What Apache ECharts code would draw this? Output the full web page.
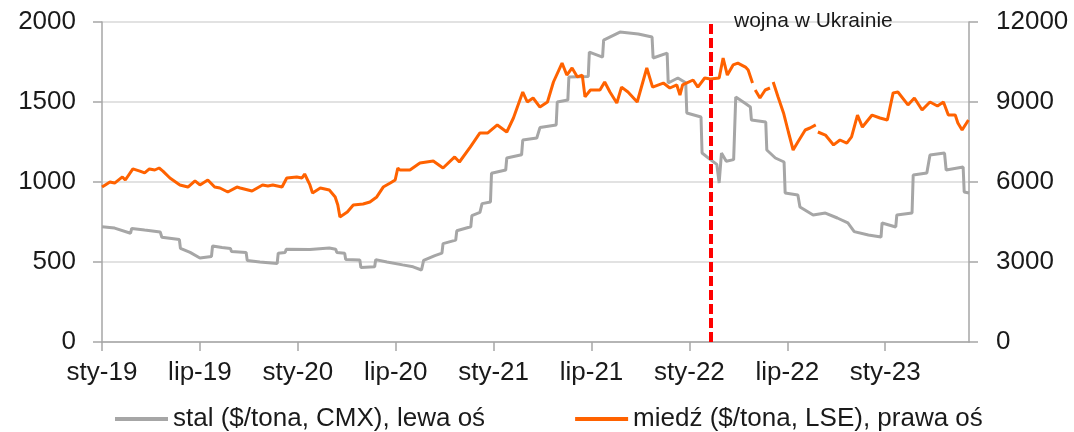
<!DOCTYPE html>
<html>
<head>
<meta charset="utf-8">
<script src="https://cdn.jsdelivr.net/npm/echarts@6/dist/echarts.min.js"></script>
<style>
  html, body { margin: 0; padding: 0; background: #fff; }
  #chart { width: 1074px; height: 432px; }
</style>
</head>
<body>
<div id="chart"></div>
<script>
// tick labels, one per half year
const xTickLabels = ['sty-19', 'lip-19', 'sty-20', 'lip-20', 'sty-21', 'lip-21', 'sty-22', 'lip-22', 'sty-23']
const endDate = '2023-06-05'
const warDate = '2022-02-10'

// stal ($/tona, CMX) - lewa oś
const steelDates = [
  '2019-01-01', '2019-01-25', '2019-02-22', '2019-02-24', '2019-03-20', '2019-04-18', '2019-04-21', '2019-05-24',
  '2019-05-26', '2019-06-13', '2019-07-01', '2019-07-23', '2019-07-25', '2019-08-12', '2019-08-28', '2019-08-30',
  '2019-09-26', '2019-09-28', '2019-10-22', '2019-11-23', '2019-11-25', '2019-12-08', '2019-12-10', '2020-01-24',
  '2020-02-28', '2020-03-11', '2020-03-13', '2020-03-28', '2020-03-30', '2020-04-25', '2020-04-27', '2020-05-23',
  '2020-05-25', '2020-06-15', '2020-07-14', '2020-08-03', '2020-08-19', '2020-08-21', '2020-08-23', '2020-09-13',
  '2020-09-26', '2020-09-28', '2020-10-22', '2020-10-24', '2020-11-19', '2020-11-21', '2020-12-06', '2020-12-10',
  '2020-12-26', '2020-12-28', '2021-01-24', '2021-01-26', '2021-02-21', '2021-02-23', '2021-03-21', '2021-03-27',
  '2021-04-26', '2021-04-28', '2021-05-18', '2021-05-20', '2021-06-25', '2021-06-27', '2021-07-22', '2021-07-24',
  '2021-08-24', '2021-09-27', '2021-10-23', '2021-10-25', '2021-11-20', '2021-11-22', '2021-12-10', '2021-12-25',
  '2021-12-27', '2022-01-23', '2022-01-25', '2022-02-09', '2022-02-20', '2022-02-24', '2022-02-28', '2022-03-09',
  '2022-03-23', '2022-03-27', '2022-04-14', '2022-04-23', '2022-04-25', '2022-05-22', '2022-05-24', '2022-06-09',
  '2022-06-25', '2022-06-27', '2022-07-21', '2022-07-25', '2022-08-19', '2022-09-11', '2022-10-03', '2022-10-23',
  '2022-11-04', '2022-11-06', '2022-11-30', '2022-12-24', '2022-12-26', '2023-01-21', '2023-01-23', '2023-02-19',
  '2023-02-21', '2023-03-18', '2023-03-24', '2023-04-20', '2023-04-23', '2023-05-25', '2023-05-27', '2023-06-05'
]
const steelValues = [
  720, 712, 680, 710, 700, 688, 655, 640,
  585, 560, 525, 535, 600, 590, 585, 565,
  560, 510, 500, 490, 555, 560, 580, 578,
  587, 580, 560, 555, 515, 512, 465, 470,
  515, 500, 482, 470, 450, 445, 510, 540,
  555, 615, 637, 695, 720, 790, 810, 865,
  875, 1055, 1075, 1150, 1170, 1262, 1275, 1340,
  1356, 1500, 1512, 1656, 1660, 1812, 1781, 1887,
  1937, 1925, 1906, 1775, 1806, 1619, 1650, 1620,
  1431, 1406, 1181, 1140, 1110, 994, 1181, 1130,
  1140, 1531, 1490, 1469, 1387, 1375, 1200, 1150,
  1125, 931, 919, 844, 794, 806, 775, 744,
  690, 681, 669, 656, 744, 719, 794, 806,
  1044, 1056, 1169, 1181, 1075, 1094, 938, 931
]

// miedź ($/tona, LSE) - prawa oś, null = brak notowań
const copperDates = [
  '2019-01-01', '2019-01-08', '2019-01-16', '2019-01-25', '2019-02-08', '2019-02-13', '2019-02-26', '2019-03-11',
  '2019-03-20', '2019-03-29', '2019-04-08', '2019-04-16', '2019-04-23', '2019-05-06', '2019-05-25', '2019-06-09',
  '2019-06-22', '2019-07-01', '2019-07-16', '2019-07-29', '2019-08-08', '2019-08-23', '2019-09-09', '2019-09-15',
  '2019-10-07', '2019-10-27', '2019-11-06', '2019-11-15', '2019-12-02', '2019-12-11', '2019-12-30', '2020-01-09',
  '2020-01-14', '2020-01-24', '2020-01-29', '2020-02-12', '2020-02-28', '2020-03-10', '2020-03-15', '2020-03-19',
  '2020-04-02', '2020-04-13', '2020-05-01', '2020-05-14', '2020-05-27', '2020-06-08', '2020-06-21', '2020-06-30',
  '2020-07-05', '2020-07-09', '2020-07-28', '2020-08-16', '2020-09-10', '2020-09-28', '2020-10-20', '2020-10-29',
  '2020-11-18', '2020-12-06', '2020-12-21', '2021-01-08', '2021-01-26', '2021-02-07', '2021-02-23', '2021-03-03',
  '2021-03-14', '2021-03-27', '2021-04-10', '2021-04-21', '2021-05-07', '2021-05-16', '2021-05-26', '2021-06-05',
  '2021-06-14', '2021-06-19', '2021-06-29', '2021-07-17', '2021-07-26', '2021-08-05', '2021-08-18', '2021-08-27',
  '2021-09-08', '2021-09-25', '2021-10-13', '2021-10-24', '2021-11-13', '2021-11-25', '2021-12-08', '2021-12-14',
  '2021-12-19', '2022-01-08', '2022-01-17', '2022-01-30', '2022-02-09', '2022-02-24', '2022-03-03', '2022-03-11',
  '2022-03-22', '2022-03-31', '2022-04-14', '2022-04-19', '2022-04-27', '2022-04-29', '2022-05-02', '2022-05-11',
  '2022-05-21', '2022-05-30', '2022-06-01', '2022-06-05', '2022-06-14', '2022-06-24', '2022-07-03', '2022-07-12',
  '2022-07-21', '2022-08-04', '2022-08-13', '2022-08-24', '2022-08-26', '2022-08-28', '2022-09-11', '2022-09-26',
  '2022-10-08', '2022-10-21', '2022-10-30', '2022-11-10', '2022-11-19', '2022-12-07', '2022-12-22', '2023-01-05',
  '2023-01-16', '2023-01-25', '2023-02-12', '2023-02-23', '2023-03-09', '2023-03-24', '2023-04-07', '2023-04-18',
  '2023-04-27', '2023-05-10', '2023-05-15', '2023-05-23', '2023-06-04'
]
const copperValues = [
  5810, 5900, 6000, 5960, 6190, 6075, 6490, 6410,
  6340, 6490, 6450, 6525, 6410, 6150, 5890, 5810,
  6040, 5890, 6075, 5810, 5775, 5625, 5810, 5775,
  5660, 5890, 5850, 5890, 5810, 6150, 6190, 6150,
  6300, 5890, 5590, 5775, 5700, 5440, 5140, 4690,
  4875, 5140, 5175, 5250, 5440, 5810, 5960, 6075,
  6525, 6450, 6450, 6710, 6790, 6525, 6940, 6750,
  7310, 7840, 7840, 8140, 7875, 8400, 9375, 9000,
  9150, 8810, 9000, 9750, 10460, 10010, 10275, 9940,
  10010, 9190, 9450, 9450, 9750, 9375, 8960, 9560,
  9375, 9000, 10275, 9560, 9710, 9525, 9640, 9260,
  9640, 9825, 9560, 9900, 9860, 9900, 10650, 10010,
  10390, 10460, 10310, 10200, 9710, null, 9450, 9150,
  9450, 9525, null, 9750, 9190, 8590, 7875, 7200,
  7500, 7950, 8025, 8140, null, 7875, 7760, 7390,
  7575, 7460, 7690, 8510, 8060, 8510, 8400, 8325,
  9340, 9375, 8890, 9150, 8700, 9000, 8850, 9000,
  8510, 8510, 8210, 7950, 8325
]

// date -> months since sty-19, so half-year ticks are evenly spaced
const toMonth = (s) => {
  const [y, m, d] = s.split('-').map(Number)
  const days = new Date(y, m, 0).getDate()
  return (y - 2019) * 12 + (m - 1) + (d - 1) / days
}

const steelData = steelDates.map((d, i) => [toMonth(d), steelValues[i]])
const copperData = copperDates.map((d, i) => [toMonth(d), copperValues[i]])
const tickValues = xTickLabels.map((_, i) => i * 6)

const font = 'Liberation Sans'
const axisColor = '#a6a6a6'
const textColor = '#1a1a1a'

const chart = echarts.init(document.getElementById('chart'))

const option = {
  animation: false,
  textStyle: { fontFamily: font },
  title: {
    text: 'wojna w Ukrainie',
    left: 729,
    top: 6,
    textStyle: { fontFamily: font, fontSize: 21, fontWeight: 'normal', color: textColor }
  },
  legend: {
    left: 110,
    top: 401,
    icon: 'rect',
    itemWidth: 53,
    itemHeight: 4,
    itemGap: 90,
    textStyle: { fontFamily: font, fontSize: 26, color: textColor },
    data: ['stal ($/tona, CMX), lewa oś', 'miedź ($/tona, LSE), prawa oś']
  },
  grid: {
    left: 102,
    right: 105,
    top: 22,
    bottom: 90
  },
  xAxis: {
    type: 'value',
    min: 0,
    max: toMonth(endDate),
    interval: 6,
    axisLine: { lineStyle: { color: axisColor, width: 1.5 } },
    axisTick: { length: 9, lineStyle: { color: axisColor, width: 1.5 }, customValues: tickValues },
    axisLabel: {
      customValues: tickValues,
      margin: 18,
      fontSize: 26,
      color: textColor,
      formatter: (v) => xTickLabels[Math.round(v / 6)] || ''
    },
    splitLine: { show: false }
  },
  yAxis: [
    {
      type: 'value',
      min: 0,
      max: 2000,
      interval: 500,
      axisLine: { show: true, lineStyle: { color: axisColor, width: 1.5 } },
      axisTick: { show: true, length: 9, lineStyle: { color: axisColor, width: 1.5 } },
      axisLabel: { margin: 26, fontSize: 26, color: textColor, formatter: (v) => String(v) },
      splitLine: { lineStyle: { color: '#d9d9d9', width: 1.5 } }
    },
    {
      type: 'value',
      min: 0,
      max: 12000,
      interval: 3000,
      position: 'right',
      axisLine: { show: true, lineStyle: { color: axisColor, width: 1.5 } },
      axisTick: { show: true, length: 9, lineStyle: { color: axisColor, width: 1.5 } },
      axisLabel: { margin: 27, fontSize: 26, color: textColor, formatter: (v) => String(v) },
      splitLine: { show: false }
    }
  ],
  series: [
    {
      name: 'stal ($/tona, CMX), lewa oś',
      type: 'line',
      yAxisIndex: 0,
      showSymbol: false,
      itemStyle: { color: '#a6a6a6' },
      lineStyle: { color: '#a6a6a6', width: 3 },
      data: steelData
    },
    {
      name: 'miedź ($/tona, LSE), prawa oś',
      type: 'line',
      yAxisIndex: 1,
      showSymbol: false,
      connectNulls: false,
      z: 3,
      itemStyle: { color: '#ff6200' },
      lineStyle: { color: '#ff6200', width: 3 },
      data: copperData,
      markLine: {
        silent: true,
        symbol: 'none',
        label: { show: false },
        lineStyle: { color: '#ff0000', width: 4, type: [10, 4] },
        data: [{ xAxis: toMonth(warDate) }]
      }
    }
  ]
}

chart.setOption(option)

window.addEventListener('resize', () => {
  chart.resize()
})
</script>
</body>
</html>
